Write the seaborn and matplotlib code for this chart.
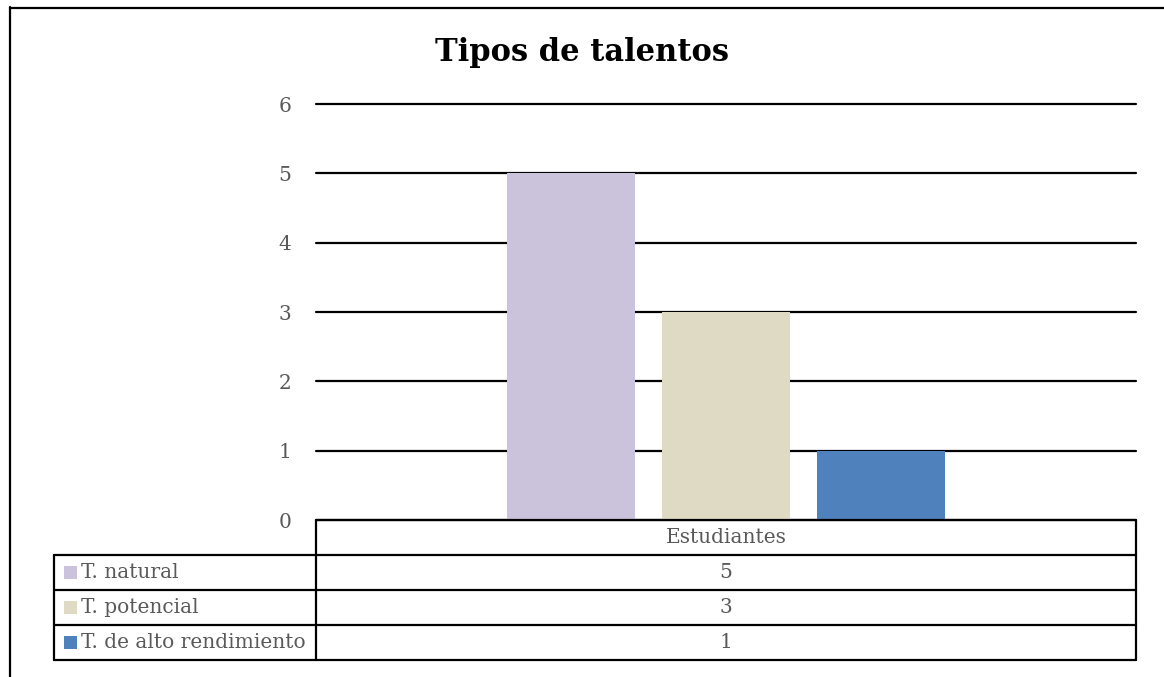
import matplotlib
matplotlib.use("Agg")
import matplotlib.pyplot as plt
import pandas as pd
import seaborn as sns
from matplotlib.lines import Line2D
from matplotlib.patches import Rectangle

categoria = "Estudiantes"
series = ["T. natural", "T. potencial", "T. de alto rendimiento"]
valores = [5, 3, 1]
colores = ["#CBC2DB", "#DEDAC3", "#4F81BD"]
titulo = "Tipos de talentos"

df = pd.DataFrame({"cat": [categoria] * len(series), "serie": series, "valor": valores})

sns.set_theme(style="white")
plt.rcParams["font.family"] = ["DejaVu Serif"]
gris = "#595959"

W, H = 1164, 677
fig = plt.figure(figsize=(W / 100, H / 100), dpi=100)
x0, x1, y_top, y_bot = 316, 1136, 104, 520
ax = fig.add_axes([x0 / W, 1 - y_bot / H, (x1 - x0) / W, (y_bot - y_top) / H])

sns.barplot(data=df, x="cat", y="valor", hue="serie", palette=colores, ax=ax,
            width=0.567, gap=0.18, legend=False, saturation=1, linewidth=0)
ax.set_xlim(-0.5, 0.5)
ax.set_ylim(0, 6)
ax.set_yticks(range(0, 7))
ax.yaxis.grid(True, color="black", linewidth=1.6)
for gl in ax.get_ygridlines():
    gl.set_clip_on(False)
ax.set_axisbelow(True)
for s in ax.spines.values():
    s.set_visible(False)
ax.tick_params(axis="y", length=0, pad=18, labelsize=14.5, labelcolor=gris)
ax.set_xticks([])
ax.set_xlabel("")
ax.set_ylabel("")

fig.text(0.5, 1 - 52 / H, titulo, ha="center", va="center",
         fontsize=22, fontweight="bold", color="black")

# data table below the plot
row_h = 35 / (y_bot - y_top)
left_col = (54 - x0) / (x1 - x0)
lw = 1.6
fs = 14.5
kw = dict(transform=ax.transAxes, clip_on=False, color="black", linewidth=lw)
ax.add_line(Line2D([0, 0], [0, -row_h * 4], **kw))
ax.add_line(Line2D([1, 1], [0, -row_h * 4], **kw))
ax.add_line(Line2D([0, 1], [0, 0], **kw))
ax.text(0.5, -row_h / 2, categoria, transform=ax.transAxes, ha="center", va="center",
        fontsize=fs, color=gris)
for i, (nombre, v, c) in enumerate(zip(series, valores, colores)):
    top = -row_h * (i + 1)
    ax.add_line(Line2D([left_col, 1], [top, top], **kw))
    ymid = top - row_h / 2
    ax.text(0.5, ymid, str(v), transform=ax.transAxes, ha="center", va="center",
            fontsize=fs, color=gris)
    sq = 13 / (x1 - x0)
    sqh = 13 / (y_bot - y_top)
    ax.add_patch(Rectangle((left_col + 10 / (x1 - x0), ymid - sqh / 2), sq, sqh,
                           transform=ax.transAxes, clip_on=False, facecolor=c, linewidth=0))
    ax.text(left_col + 27 / (x1 - x0), ymid, nombre, transform=ax.transAxes,
            ha="left", va="center", fontsize=fs, color=gris)
ax.add_line(Line2D([left_col, 1], [-row_h * 4, -row_h * 4], **kw))
ax.add_line(Line2D([left_col, left_col], [-row_h, -row_h * 4], **kw))

# outer chart frame (cropped on right and bottom)
fig.add_artist(Line2D([10.5 / W, 10.5 / W], [0, 1 - 7 / H], color="black", linewidth=1.6))
fig.add_artist(Line2D([10 / W, 1.01], [1 - 7.5 / H, 1 - 7.5 / H], color="black", linewidth=1.6))

fig.savefig("out.png", dpi=100)
